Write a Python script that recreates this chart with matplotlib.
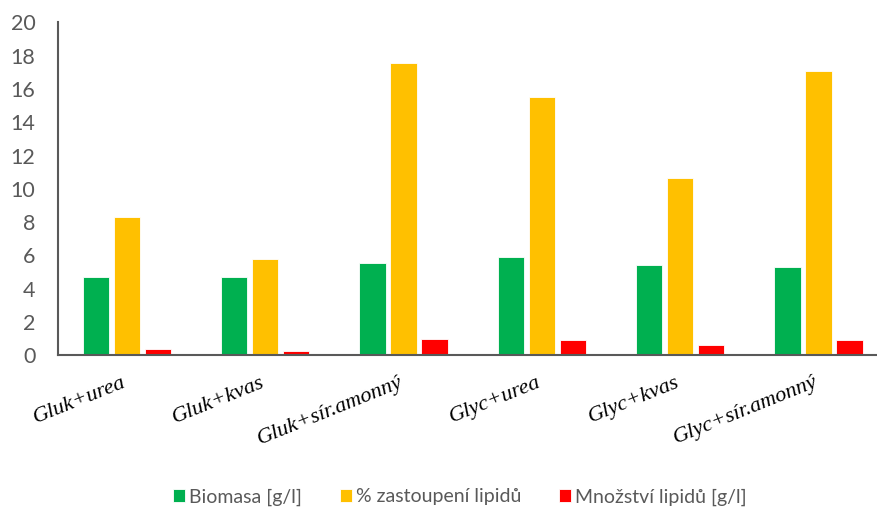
import matplotlib
matplotlib.use("Agg")
import matplotlib.pyplot as plt
import matplotlib.transforms as mtransforms
import numpy as np

categories = ["Gluk+urea", "Gluk+kvas", "Gluk+sír.amonný",
              "Glyc+urea", "Glyc+kvas", "Glyc+sír.amonný"]
biomasa = [4.72, 4.68, 5.56, 5.89, 5.42, 5.28]
zastoupeni = [8.29, 5.80, 17.57, 15.52, 10.62, 17.11]
mnozstvi = [0.38, 0.26, 0.96, 0.90, 0.58, 0.90]
series_labels = ["Biomasa [g/l]", "% zastoupení lipidů", "Množství lipidů [g/l]"]
series_colors = ["#00B050", "#FFC000", "#FF0000"]
y_ticks = [0, 2, 4, 6, 8, 10, 12, 14, 16, 18, 20]

grey = "#595959"
fig = plt.figure(figsize=(8.77, 5.11), dpi=100)
ax = fig.add_axes([57.5 / 877, (511 - 355) / 511, (887.7 - 57.5) / 877, (355 - 22.5) / 511])

x = np.arange(len(categories))
offset = 0.224
width = 0.19
for k, (vals, lab, col) in enumerate(zip([biomasa, zastoupeni, mnozstvi], series_labels, series_colors)):
    ax.bar(x + (k - 1) * offset, vals, width=width, color=col, label=lab,
           edgecolor="white", linewidth=0.6, zorder=2)

ax.set_xlim(-0.5, len(categories) - 0.5)
ax.set_ylim(0, 20)
ax.set_yticks(y_ticks)
ax.set_yticklabels([str(t) for t in y_ticks], fontsize=15.5, color=grey, family="Lato")
ax.tick_params(axis="y", length=0, pad=16)
ax.tick_params(axis="x", length=0, pad=13)
ax.set_xticks(x)
ax.set_xticklabels(categories, rotation=22, ha="right", va="top", rotation_mode="anchor",
                   fontsize=16, family="Liberation Serif", style="italic", color="black")
shift = mtransforms.ScaledTranslation(-5 / 100, 0, fig.dpi_scale_trans)
for lbl in ax.get_xticklabels():
    lbl.set_transform(lbl.get_transform() + shift)

for side in ["top", "right"]:
    ax.spines[side].set_visible(False)
for side in ["left", "bottom"]:
    ax.spines[side].set_color(grey)
    ax.spines[side].set_linewidth(1.5)

leg = fig.legend(loc="center", bbox_to_anchor=(460 / 877, (511 - 497) / 511), ncol=3,
                 frameon=False, handlelength=0.62, handleheight=0.62, handletextpad=0.2,
                 columnspacing=1.95, prop={"family": "Lato", "size": 14})
for t in leg.get_texts():
    t.set_color(grey)

fig.savefig("out.png", dpi=100)
